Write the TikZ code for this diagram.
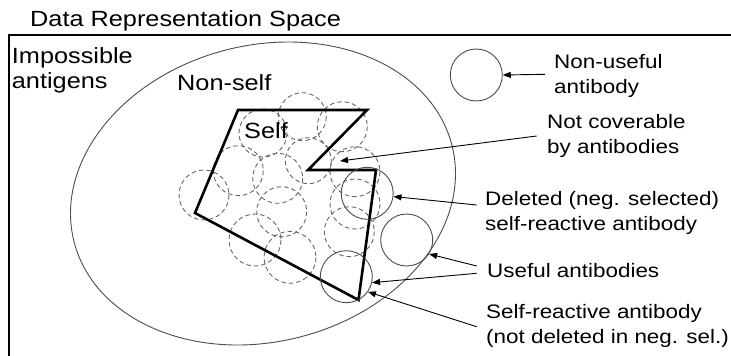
\documentclass[tikz,border=0pt]{standalone}
\usepackage{fontspec}
\setmainfont{Liberation Sans}[FakeStretch=1.15]
\usetikzlibrary{arrows.meta}
\tikzset{
  frame/.style={draw=black, line width=1.3pt},
  region/.style={draw=black!70, line width=0.9pt},
  selfpoly/.style={draw=black, line width=2.6pt, line join=miter},
  dashc/.style={draw=black!60, line width=0.9pt, dash pattern=on 4.5pt off 3pt},
  ab/.style={circle, draw=black!70, line width=0.9pt, minimum size=52pt, inner sep=0pt},
  arr/.style={draw=black, line width=0.9pt, -{Triangle[length=8pt,width=6pt]}},
  lbl/.style={anchor=base west, inner sep=0pt, font=\fontsize{19.5}{25.5}\selectfont},
  biglbl/.style={anchor=base west, inner sep=0pt, font=\fontsize{22}{25.5}\selectfont},
}
\begin{document}
\begin{tikzpicture}[x=1pt, y=-1pt]
\useasboundingbox (0,0) rectangle (731,356);
\clip (0,0) rectangle (731,356);
% frame
\draw[frame] (9,370) -- (9,35) -- (745,35);
\node[biglbl] (title) at (30,26.5) {Data Representation Space};
\node[biglbl] (imp) at (11.7,63.3) {\begin{tabular}[t]{@{}l@{}}Impossible\\antigens\end{tabular}};
% non-self region
\draw[region, rotate around={14.3:(263,193.5)}] (263,193.5) ellipse [x radius=195, y radius=148.2];
\node[biglbl] (nonself) at (177,90) {Non-self};
% dashed antibodies
\foreach \cx/\cy/\r in {302.3/116.7/24, 342.3/126.7/25, 263/133/24, 238.3/170.7/25,
  308.3/160.7/23, 277.7/178.3/25, 204/195/25, 355/171.7/25, 281.7/211.7/25,
  355/204/25, 349.3/231.7/25, 255/240/26, 290/257.3/26}
  \draw[dashc] (\cx,\cy) circle [radius=\r];
% self
\draw[selfpoly] (238,110) -- (367,110) -- (308,170) -- (376,170) -- (358.5,300) -- (195,213) -- cycle;
\node[biglbl] (self) at (244,138) {Self};
% solid antibodies
\node[ab] (nonuseful) at (476.3,75) {};
\node[ab] (deleted) at (367.2,193.3) {};
\node[ab] (useful) at (406.7,240) {};
\node[ab] (selfreact) at (346.3,276.7) {};
% labels
\node[lbl] (lnu) at (554,68) {\begin{tabular}[t]{@{}l@{}}Non-useful\\antibody\end{tabular}};
\node[lbl] (lnc) at (547,128) {\begin{tabular}[t]{@{}l@{}}Not coverable\\by antibodies\end{tabular}};
\node[lbl] (ldel) at (485,205) {\begin{tabular}[t]{@{}l@{}}Deleted (neg. selected)\\self-reactive antibody\end{tabular}};
\node[lbl] (luse) at (487,277) {Useful antibodies};
\node[lbl] (lsr) at (486,318) {\begin{tabular}[t]{@{}l@{}}Self-reactive antibody\\(not deleted in neg. sel.)\end{tabular}};
% arrow ends
\coordinate (snu) at (545,74.3);
\coordinate (snc) at (536.7,136);
\coordinate (tnc) at (340,161);
\coordinate (sdel) at (476.7,205);
\coordinate (suse1) at (476.7,266);
\coordinate (suse2) at (476.7,273.3);
\coordinate (ssr) at (476.7,326.7);
\draw[arr] (snu) -- (nonuseful.east);
\draw[arr] (snc) -- (tnc);
\draw[arr] (sdel) -- (deleted.-7.6);
\draw[arr] (suse1) -- (useful.-32.8);
\draw[arr] (suse2) -- (selfreact.-13.7);
\draw[arr] (ssr) -- (selfreact.-35);
\end{tikzpicture}
\end{document}
